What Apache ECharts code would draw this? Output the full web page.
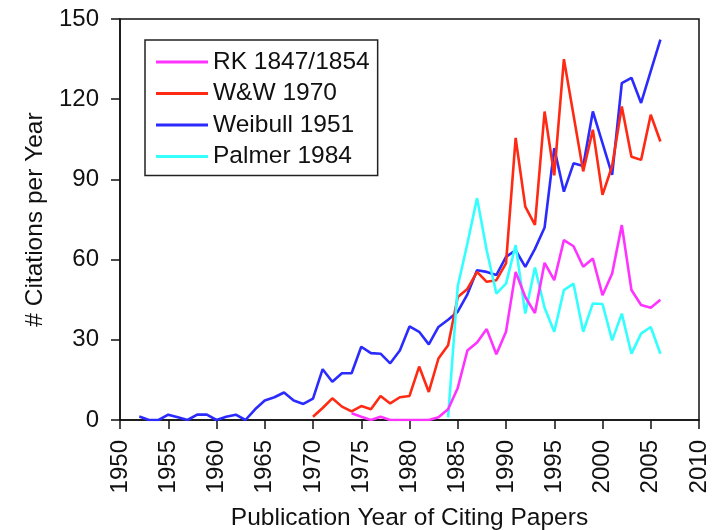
<!DOCTYPE html>
<html>
<head>
<meta charset="utf-8">
<script src="https://cdn.jsdelivr.net/npm/echarts@6/dist/echarts.min.js"></script>
<style>
html,body{margin:0;padding:0;background:#fff;}
#chart{width:718px;height:530px;}
</style>
</head>
<body>
<div id="chart"></div>
<script>
// Publication years of citing papers
const years = [1952,1953,1954,1955,1956,1957,1958,1959,1960,1961,1962,1963,1964,1965,1966,1967,1968,1969,
  1970,1971,1972,1973,1974,1975,1976,1977,1978,1979,1980,1981,1982,1983,1984,1985,1986,1987,1988,1989,
  1990,1991,1992,1993,1994,1995,1996,1997,1998,1999,2000,2001,2002,2003,2004,2005,2006];

const seriesNames = ['RK 1847/1854', 'W&W 1970', 'Weibull 1951', 'Palmer 1984'];

// RK 1847/1854 (from 1974)
const rkYears = [1974,1975,1976,1977,1978,1979,1980,1981,1982,1983,1984,1985,1986,1987,1988,1989,
  1990,1991,1992,1993,1994,1995,1996,1997,1998,1999,2000,2001,2002,2003,2004,2005,2006];
const rkValues = [2.5,1.2,0,1.2,0,0,0,0,0,1,4,12,26,29,34,24.6,
  33,55.4,46,40,58.8,52.3,67.3,65,57.3,60.4,46.7,54.8,72.9,48.6,43,42,45];

// W&W 1970 (from 1970)
const wwYears = [1970,1971,1972,1973,1974,1975,1976,1977,1978,1979,1980,1981,1982,1983,1984,1985,1986,1987,1988,1989,
  1990,1991,1992,1993,1994,1995,1996,1997,1998,1999,2000,2001,2002,2003,2004,2005,2006];
const wwValues = [1.2,4.5,8.1,5,3.2,5.2,4,9,6.2,8.5,9,20,10.5,23,28,46,49,55.4,51.7,52.3,
  58.6,105.5,79.8,73,115.4,91.5,135,114,93,108.6,84.2,95,117.3,98.5,97.3,114.2,104.2];

// Weibull 1951 (from 1952)
const weibullValues = [1.3,0,0,2,1,0,2,2,0,1.2,2,0,4,7.3,8.5,10.3,7.3,6,
  8,19,14.3,17.5,17.5,27.4,25,24.8,21.2,26,35,33,28.3,34.8,37.5,40.5,47,56,55.4,54.2,
  61,63.5,57.3,64,72,101.7,85.4,96,95,115.4,103.6,91.7,126,128,118.6,130.5,142.3];

// Palmer 1984 (from 1984)
const palmerYears = [1984,1985,1986,1987,1988,1989,1990,1991,1992,1993,1994,1995,1996,1997,1998,1999,
  2000,2001,2002,2003,2004,2005,2006];
const palmerValues = [1,50,66,83,63.5,47.3,51,65.4,39.8,57,42,33,48.6,51,33,43.6,
  43.4,29.8,39.8,24.8,32.3,34.8,24.8];

const colors = ['#ff33ff', '#ff2a14', '#2b2bff', '#33ffff'];

function pairs(xs, ys){ return xs.map((x,i)=>[x, ys[i]]); }

const FONT = "'Liberation Sans', Arial, sans-serif";

const chart = echarts.init(document.getElementById('chart'), null, {renderer:'canvas'});
const mk = (name, data, color) => ({
  name: name, type: 'line', data: data, showSymbol: false, symbol: 'none',
  lineStyle: {color: color, width: 2.6}, itemStyle: {color: color},
  animation: false, z: 3
});

chart.setOption({
  animation: false,
  backgroundColor: '#fff',
  grid: {left: 120, right: 19, top: 19, bottom: 110, show: true, borderColor: '#111', borderWidth: 1.5,
    backgroundColor: 'transparent', containLabel: false, outerBoundsMode: 'none'},
  legend: {
    orient: 'vertical', left: 145, top: 40,
    padding: [9, 8, 6, 11],
    itemGap: 5.5, itemWidth: 52, itemHeight: 3, icon: 'rect',
    borderColor: '#222', borderWidth: 1.5,
    textStyle: {fontFamily: FONT, fontSize: 24.5, color: '#111', lineHeight: 26, padding: [0,0,0,0]},
    data: seriesNames
  },
  xAxis: {
    type: 'value', min: 1950, max: 2010, interval: 5,
    name: 'Publication Year of Citing Papers', nameLocation: 'middle', nameGap: 86,
    nameTextStyle: {fontFamily: FONT, fontSize: 24.5, color: '#111'},
    axisLine: {show: true, onZero: false, lineStyle: {color: '#111', width: 1.5}},
    axisTick: {show: true, length: 9, inside: false, lineStyle: {color: '#111', width: 1.5}},
    axisLabel: {rotate: 90, margin: 20, fontFamily: FONT, fontSize: 24, color: '#111',
      formatter: v => String(v)},
    splitLine: {show: false}
  },
  yAxis: {
    type: 'value', min: 0, max: 150, interval: 30,
    name: '# Citations per Year', nameLocation: 'middle', nameGap: 70,
    nameTextStyle: {fontFamily: FONT, fontSize: 24.5, color: '#111'},
    axisLine: {show: true, lineStyle: {color: '#111', width: 1.5}},
    axisTick: {show: true, length: 9, inside: false, lineStyle: {color: '#111', width: 1.5}},
    axisLabel: {margin: 21, fontFamily: FONT, fontSize: 24, color: '#111'},
    splitLine: {show: false}
  },
  series: [
    mk(seriesNames[2], pairs(years, weibullValues), colors[2]),
    mk(seriesNames[1], pairs(wwYears, wwValues), colors[1]),
    mk(seriesNames[3], pairs(palmerYears, palmerValues), colors[3]),
    mk(seriesNames[0], pairs(rkYears, rkValues), colors[0])
  ]
});
</script>
</body>
</html>
